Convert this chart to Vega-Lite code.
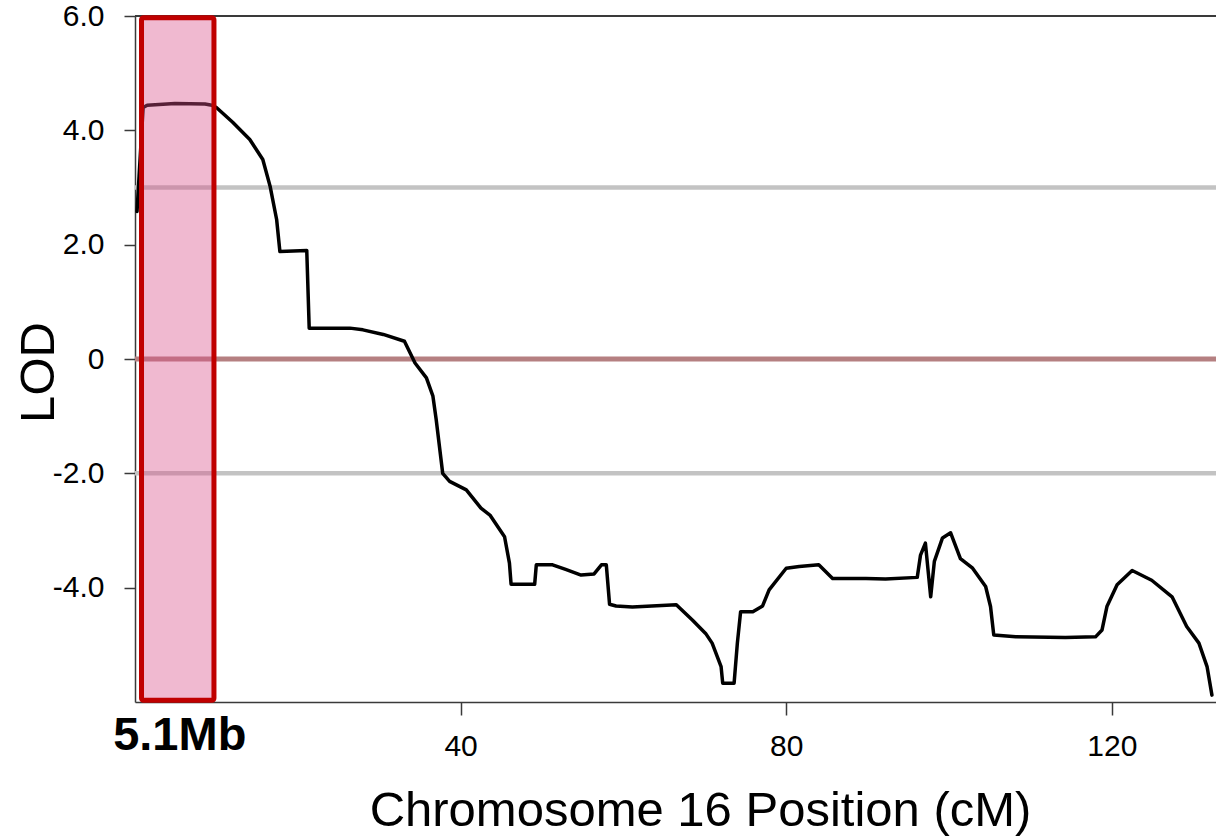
{
  "$schema": "https://vega.github.io/schema/vega-lite/v6.json",
  "width": 1081,
  "height": 686,
  "autosize": {"type": "none"},
  "padding": {"left": 135, "top": 16, "right": 0, "bottom": 134},
  "background": "white",
  "config": {
    "view": {"stroke": null},
    "font": "Liberation Sans",
    "axis": {
      "domainColor": "#3a3a3a",
      "domainWidth": 1.5,
      "tickColor": "#3a3a3a",
      "tickWidth": 1.5,
      "labelColor": "#000000",
      "titleColor": "#000000",
      "labelFont": "Liberation Sans",
      "titleFont": "Liberation Sans",
      "titleFontWeight": "normal",
      "grid": false
    }
  },
  "encoding": {
    "x": {
      "field": "cM",
      "type": "quantitative",
      "scale": {"domain": [0, 132.8], "nice": false, "zero": false},
      "axis": {
        "values": [40, 80, 120],
        "tickSize": 13,
        "labelPadding": 16,
        "labelFontSize": 30,
        "labelOverlap": false,
        "title": "Chromosome 16 Position (cM)",
        "titleFontSize": 49,
        "titleX": 565,
        "titleY": 123,
        "titleAlign": "center",
        "titleBaseline": "alphabetic"
      }
    },
    "y": {
      "field": "LOD",
      "type": "quantitative",
      "scale": {"domain": [-6, 6], "nice": false, "zero": false},
      "axis": {
        "values": [-4, -2, 0, 2, 4, 6],
        "labelExpr": "datum.value == 0 ? '0' : (datum.value < 0 ? '-' : '') + format(abs(datum.value), '.1f')",
        "tickSize": 11,
        "labelPadding": 20,
        "labelFontSize": 30,
        "labelOverlap": false,
        "title": "LOD",
        "titleFontSize": 49,
        "titleAngle": 270,
        "titleX": -82,
        "titleY": 356,
        "titleAlign": "center",
        "titleBaseline": "alphabetic"
      }
    }
  },
  "layer": [
    {
      "data": {"values": [
        {"cM": 0, "cM2": 132.8, "LOD": 3},
        {"cM": 0, "cM2": 132.8, "LOD": -2}
      ]},
      "mark": {"type": "rule", "color": "#C3C3C3", "strokeWidth": 4.5},
      "encoding": {"x2": {"field": "cM2"}}
    },
    {
      "data": {"values": [
        {"cM": 0, "cM2": 132.8, "LOD": 0}
      ]},
      "mark": {"type": "rule", "color": "#B58081", "strokeWidth": 5},
      "encoding": {"x2": {"field": "cM2"}}
    },
    {
      "data": {"values": [
        {"cM": 0, "cM2": 132.8, "LOD": 6}
      ]},
      "mark": {"type": "rule", "color": "#3a3a3a", "strokeWidth": 2},
      "encoding": {"x2": {"field": "cM2"}}
    },
    {
      "data": {"values": [
        {"cM": 0.25, "LOD": 2.58},
        {"cM": 0.5, "LOD": 3.2},
        {"cM": 1.0, "LOD": 4.40},
        {"cM": 1.5, "LOD": 4.44},
        {"cM": 4.9, "LOD": 4.47},
        {"cM": 8.6, "LOD": 4.46},
        {"cM": 9.45, "LOD": 4.44},
        {"cM": 10.0, "LOD": 4.40},
        {"cM": 12.0, "LOD": 4.14},
        {"cM": 14.1, "LOD": 3.84},
        {"cM": 15.7, "LOD": 3.49},
        {"cM": 16.6, "LOD": 3.02},
        {"cM": 17.4, "LOD": 2.44},
        {"cM": 17.8, "LOD": 1.88},
        {"cM": 21.1, "LOD": 1.90},
        {"cM": 21.4, "LOD": 0.54},
        {"cM": 26.4, "LOD": 0.54},
        {"cM": 28.0, "LOD": 0.51},
        {"cM": 30.5, "LOD": 0.43},
        {"cM": 33.1, "LOD": 0.31},
        {"cM": 34.4, "LOD": -0.07},
        {"cM": 35.8, "LOD": -0.33},
        {"cM": 36.6, "LOD": -0.65},
        {"cM": 37.0, "LOD": -1.06},
        {"cM": 37.8, "LOD": -2.00},
        {"cM": 38.65, "LOD": -2.14},
        {"cM": 40.7, "LOD": -2.29},
        {"cM": 42.5, "LOD": -2.61},
        {"cM": 43.6, "LOD": -2.73},
        {"cM": 45.4, "LOD": -3.11},
        {"cM": 46.0, "LOD": -3.57},
        {"cM": 46.2, "LOD": -3.94},
        {"cM": 49.1, "LOD": -3.94},
        {"cM": 49.3, "LOD": -3.60},
        {"cM": 51.3, "LOD": -3.60},
        {"cM": 52.9, "LOD": -3.68},
        {"cM": 54.8, "LOD": -3.78},
        {"cM": 56.4, "LOD": -3.76},
        {"cM": 57.3, "LOD": -3.60},
        {"cM": 57.9, "LOD": -3.60},
        {"cM": 58.3, "LOD": -4.29},
        {"cM": 59.1, "LOD": -4.32},
        {"cM": 61.1, "LOD": -4.34},
        {"cM": 66.5, "LOD": -4.30},
        {"cM": 68.5, "LOD": -4.57},
        {"cM": 70.1, "LOD": -4.80},
        {"cM": 70.9, "LOD": -4.97},
        {"cM": 72.0, "LOD": -5.38},
        {"cM": 72.2, "LOD": -5.67},
        {"cM": 73.6, "LOD": -5.67},
        {"cM": 74.0, "LOD": -4.97},
        {"cM": 74.4, "LOD": -4.42},
        {"cM": 75.9, "LOD": -4.42},
        {"cM": 77.1, "LOD": -4.32},
        {"cM": 77.9, "LOD": -4.04},
        {"cM": 80.0, "LOD": -3.66},
        {"cM": 81.6, "LOD": -3.63},
        {"cM": 84.0, "LOD": -3.60},
        {"cM": 85.7, "LOD": -3.84},
        {"cM": 89.8, "LOD": -3.84},
        {"cM": 92.2, "LOD": -3.85},
        {"cM": 96.1, "LOD": -3.82},
        {"cM": 96.5, "LOD": -3.43},
        {"cM": 97.1, "LOD": -3.22},
        {"cM": 97.75, "LOD": -4.16},
        {"cM": 98.2, "LOD": -3.54},
        {"cM": 99.2, "LOD": -3.13},
        {"cM": 100.2, "LOD": -3.04},
        {"cM": 101.4, "LOD": -3.49},
        {"cM": 102.9, "LOD": -3.66},
        {"cM": 104.5, "LOD": -3.98},
        {"cM": 105.1, "LOD": -4.33},
        {"cM": 105.5, "LOD": -4.83},
        {"cM": 108.2, "LOD": -4.86},
        {"cM": 114.3, "LOD": -4.87},
        {"cM": 118.0, "LOD": -4.86},
        {"cM": 118.8, "LOD": -4.74},
        {"cM": 119.4, "LOD": -4.33},
        {"cM": 120.65, "LOD": -3.95},
        {"cM": 122.5, "LOD": -3.70},
        {"cM": 124.9, "LOD": -3.87},
        {"cM": 127.4, "LOD": -4.16},
        {"cM": 129.2, "LOD": -4.68},
        {"cM": 130.7, "LOD": -4.97},
        {"cM": 131.7, "LOD": -5.38},
        {"cM": 132.3, "LOD": -5.88}
      ]},
      "mark": {"type": "line", "color": "#000000", "strokeWidth": 3.5, "strokeJoin": "round", "strokeCap": "round"}
    },
    {
      "data": {"values": [
        {"cM": 0.8, "cM2": 9.7, "LOD": 5.97, "LOD2": -5.97}
      ]},
      "mark": {"type": "rect", "fill": "#D94F8A", "fillOpacity": 0.4, "stroke": "#C00000", "strokeWidth": 5, "cornerRadius": 2},
      "encoding": {"x2": {"field": "cM2"}, "y2": {"field": "LOD2"}}
    },
    {
      "data": {"values": [
        {"cM": 5.5, "LOD": -6.84, "label": "5.1Mb"}
      ]},
      "mark": {"type": "text", "fontSize": 47, "fontWeight": "bold", "align": "center", "baseline": "alphabetic", "color": "#000000", "font": "Liberation Sans"},
      "encoding": {"text": {"field": "label"}}
    }
  ]
}
